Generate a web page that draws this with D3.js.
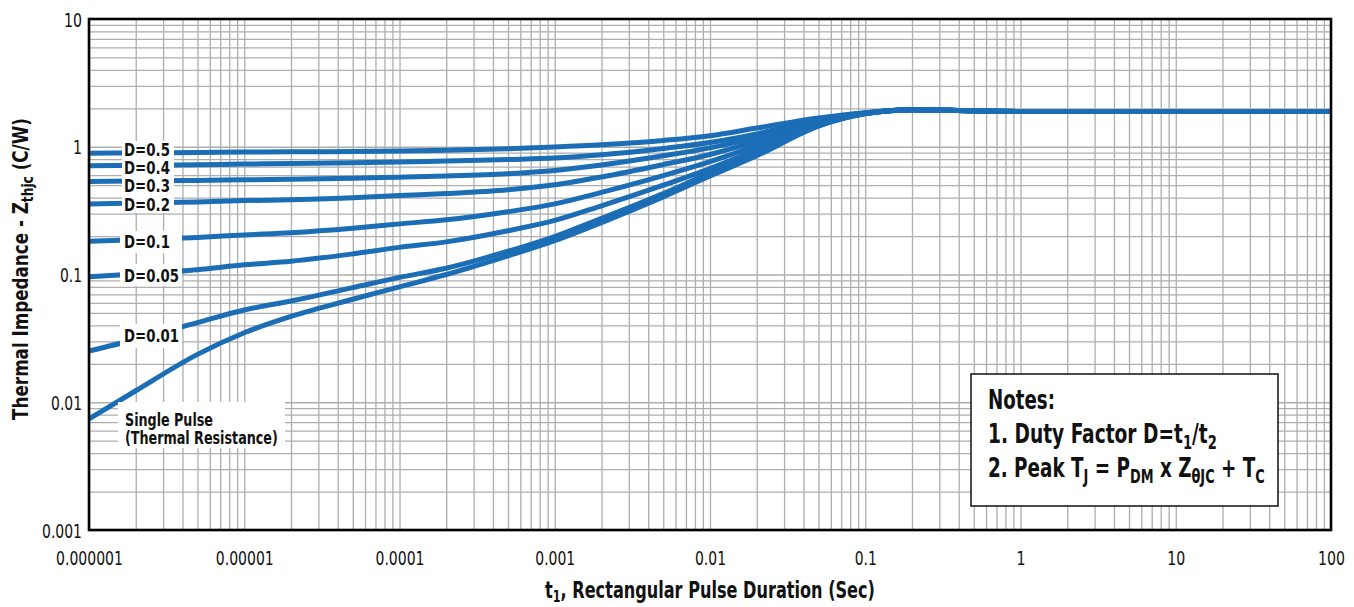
<!DOCTYPE html>
<html>
<head>
<meta charset="utf-8">
<script src="https://cdn.jsdelivr.net/npm/d3@7"></script>
<style>
html,body{margin:0;padding:0;background:#fff;}
svg{display:block;}
text{font-family:"DejaVu Sans",sans-serif;font-stretch:condensed;}
</style>
</head>
<body>
<svg id="chart" width="1354" height="607"></svg>
<script>
// ---- data ----
const times = [1e-6, 2e-6, 5e-6, 1e-5, 2e-5, 5e-5, 1e-4, 2e-4, 5e-4, 1e-3, 2e-3, 5e-3, 1e-2, 2e-2, 5e-2, 0.1, 0.2, 0.5, 1, 10, 100];
const seriesNames = ["D=0.5", "D=0.4", "D=0.3", "D=0.2", "D=0.1", "D=0.05", "D=0.01", "Single Pulse"];
const d050 = [0.89, 0.895, 0.902, 0.909, 0.912, 0.918, 0.925, 0.94, 0.965, 0.995, 1.035, 1.12, 1.22, 1.40, 1.68, 1.85, 1.95, 1.91, 1.89, 1.89, 1.89];
const d040 = [0.71, 0.715, 0.724, 0.732, 0.738, 0.748, 0.759, 0.775, 0.795, 0.815, 0.865, 0.97, 1.08, 1.26, 1.64, 1.84, 1.95, 1.91, 1.89, 1.89, 1.89];
const d030 = [0.535, 0.54, 0.545, 0.551, 0.557, 0.567, 0.578, 0.59, 0.615, 0.652, 0.72, 0.85, 0.98, 1.18, 1.61, 1.84, 1.95, 1.91, 1.89, 1.89, 1.89];
const d020 = [0.356, 0.362, 0.37, 0.379, 0.385, 0.398, 0.415, 0.43, 0.46, 0.504, 0.58, 0.725, 0.87, 1.10, 1.58, 1.83, 1.95, 1.91, 1.89, 1.89, 1.89];
const d010 = [0.182, 0.187, 0.195, 0.204, 0.212, 0.230, 0.249, 0.268, 0.31, 0.357, 0.44, 0.595, 0.765, 1.02, 1.55, 1.83, 1.95, 1.91, 1.89, 1.89, 1.89];
const d005 = [0.096, 0.101, 0.109, 0.119, 0.127, 0.145, 0.163, 0.18, 0.22, 0.265, 0.345, 0.50, 0.675, 0.944, 1.50, 1.82, 1.95, 1.91, 1.89, 1.89, 1.89];
const d001 = [0.0252, 0.031, 0.042, 0.0527, 0.062, 0.079, 0.095, 0.112, 0.152, 0.198, 0.275, 0.43, 0.625, 0.885, 1.47, 1.82, 1.95, 1.91, 1.89, 1.89, 1.89];
const single = [0.0074, 0.0123, 0.0237, 0.035, 0.047, 0.064, 0.080, 0.100, 0.140, 0.184, 0.255, 0.405, 0.59, 0.85, 1.45, 1.81, 1.95, 1.91, 1.89, 1.89, 1.89];
const xTickValues = [1e-6, 1e-5, 1e-4, 1e-3, 1e-2, 1e-1, 1, 10, 100];
const xTickLabels = ["0.000001", "0.00001", "0.0001", "0.001", "0.01", "0.1", "1", "10", "100"];
const yTickValues = [0.001, 0.01, 0.1, 1, 10];
const yTickLabels = ["0.001", "0.01", "0.1", "1", "10"];

// ---- layout ----
const svg = d3.select("#chart");
const L = 89, R = 1331, T = 19, B = 530;
const x = d3.scaleLog().domain([1e-6, 100]).range([L, R]);
const y = d3.scaleLog().domain([0.001, 10]).range([B, T]);

// squeeze a text horizontally to a target width (condensed face look)
function fitW(sel, W, anchor) {
  const node = sel.node();
  const bb = node.getBBox();
  if (!bb.width) return;
  const s = W / bb.width;
  const ax = anchor === "start" ? bb.x : anchor === "end" ? bb.x + bb.width : bb.x + bb.width / 2;
  const prev = sel.attr("transform") || "";
  sel.attr("transform", `${prev} translate(${ax},0) scale(${s},1) translate(${-ax},0)`);
}
const numW = s => s.replace(/\./g, "").length * 9 + (s.match(/\./g) || []).length * 4;

// minor grid values
const xGrid = [], yGrid = [];
for (let e = -6; e < 2; e++) for (let k = 1; k <= 9; k++) xGrid.push(k * Math.pow(10, e));
for (let e = -3; e < 1; e++) for (let k = 1; k <= 9; k++) yGrid.push(k * Math.pow(10, e));

const gx = svg.append("g").attr("transform", `translate(0,${B})`)
  .call(d3.axisBottom(x).tickValues(xGrid).tickSize(-(B - T)).tickFormat(""));
const gy = svg.append("g").attr("transform", `translate(${L},0)`)
  .call(d3.axisLeft(y).tickValues(yGrid).tickSize(-(R - L)).tickFormat(""));
[gx, gy].forEach(g => {
  g.select(".domain").remove();
  g.selectAll("line").attr("stroke", "#aeaeae").attr("stroke-width", 1.3);
});

// curves
const allSeries = [d050, d040, d030, d020, d010, d005, d001, single];
const line = d3.line().x(d => x(d[0])).y(d => y(d[1])).curve(d3.curveMonotoneX);
svg.append("g").selectAll("path").data(allSeries).join("path")
  .attr("d", s => line(times.map((t, i) => [t, s[i]])))
  .attr("fill", "none").attr("stroke", "#1b6db6").attr("stroke-width", 5)
  .attr("stroke-linejoin", "round");

// frame
svg.append("rect").attr("x", L).attr("y", T).attr("width", R - L).attr("height", B - T)
  .attr("fill", "none").attr("stroke", "#000").attr("stroke-width", 2.6);

// tick labels
const xa = svg.append("g").attr("transform", `translate(0,${B})`)
  .call(d3.axisBottom(x).tickValues(xTickValues).tickSize(0).tickPadding(0)
    .tickFormat((d, i) => xTickLabels[i]));
xa.select(".domain").remove();
xa.selectAll("text").attr("y", 35).attr("dy", 0).attr("font-size", 20)
  .attr("fill", "#111").style("font-family", null)
  .each(function(d, i) { fitW(d3.select(this), numW(xTickLabels[i]), "middle"); });
const ya = svg.append("g").attr("transform", `translate(${L},0)`)
  .call(d3.axisLeft(y).tickValues(yTickValues).tickSize(0).tickPadding(0)
    .tickFormat((d, i) => yTickLabels[i]));
ya.select(".domain").remove();
ya.selectAll("text").attr("x", -7).attr("dy", "0.36em").attr("font-size", 20)
  .attr("fill", "#111").style("font-family", null)
  .each(function(d, i) { fitW(d3.select(this), numW(yTickLabels[i]), "end"); });

// curve labels (white boxes)
const labelBoxes = [
  {t: "D=0.5", x: 122, y: 141, w: 52, h: 17, ty: 156, tw: 46},
  {t: "D=0.4", x: 122, y: 158, w: 52, h: 19, ty: 174.5, tw: 46},
  {t: "D=0.3", x: 122, y: 177, w: 52, h: 18, ty: 192.5, tw: 46},
  {t: "D=0.2", x: 122, y: 195, w: 52, h: 18, ty: 211.5, tw: 46},
  {t: "D=0.1", x: 120, y: 231, w: 62, h: 22, ty: 248.5, tw: 46},
  {t: "D=0.05", x: 120, y: 264, w: 62, h: 22, ty: 282.5, tw: 55},
  {t: "D=0.01", x: 120, y: 324, w: 62, h: 24, ty: 342.5, tw: 55}
];
const lg = svg.append("g");
labelBoxes.forEach(b => {
  lg.append("rect").attr("x", b.x).attr("y", b.y).attr("width", b.w).attr("height", b.h).attr("fill", "#fff");
  const t = lg.append("text").attr("x", 124).attr("y", b.ty).attr("font-size", 17)
    .attr("font-weight", "bold").attr("fill", "#111").text(b.t);
  fitW(t, b.tw, "start");
});
lg.append("rect").attr("x", 118).attr("y", 402).attr("width", 167).attr("height", 46).attr("fill", "#fff");
fitW(lg.append("text").attr("x", 125).attr("y", 426).attr("font-size", 17).attr("font-weight", "bold")
  .attr("fill", "#111").text("Single Pulse"), 88, "start");
fitW(lg.append("text").attr("x", 125).attr("y", 444).attr("font-size", 17).attr("font-weight", "bold")
  .attr("fill", "#111").text("(Thermal Resistance)"), 153, "start");

// notes box
const nb = svg.append("g");
nb.append("rect").attr("x", 971).attr("y", 374).attr("width", 307).attr("height", 132)
  .attr("fill", "#fff").attr("stroke", "#111").attr("stroke-width", 1.5);
const n0 = nb.append("text").attr("x", 988).attr("y", 409).attr("font-size", 27).attr("font-weight", "bold")
  .attr("fill", "#111").text("Notes:");
fitW(n0, 67, "start");
const n1 = nb.append("text").attr("x", 988).attr("y", 443).attr("font-size", 27).attr("font-weight", "bold").attr("fill", "#111");
n1.append("tspan").text("1. Duty Factor D=t");
n1.append("tspan").attr("dy", 6).attr("font-size", 19).text("1");
n1.append("tspan").attr("dy", -6).text("/t");
n1.append("tspan").attr("dy", 6).attr("font-size", 19).text("2");
fitW(n1, 229, "start");
const n2 = nb.append("text").attr("x", 988).attr("y", 477).attr("font-size", 27).attr("font-weight", "bold").attr("fill", "#111");
n2.append("tspan").text("2. Peak T");
n2.append("tspan").attr("dy", 6).attr("font-size", 19).text("J");
n2.append("tspan").attr("dy", -6).text(" =  P");
n2.append("tspan").attr("dy", 6).attr("font-size", 19).text("DM");
n2.append("tspan").attr("dy", -6).text(" x Z");
n2.append("tspan").attr("dy", 6).attr("font-size", 19).text("θJC");
n2.append("tspan").attr("dy", -6).text(" + T");
n2.append("tspan").attr("dy", 6).attr("font-size", 19).text("C");
fitW(n2, 277, "start");

// axis titles
const xt = svg.append("text").attr("x", 710).attr("y", 598).attr("text-anchor", "middle")
  .attr("font-size", 23).attr("font-weight", "bold").attr("fill", "#111");
xt.append("tspan").text("t");
xt.append("tspan").attr("dy", 4).attr("font-size", 16).text("1");
xt.append("tspan").attr("dy", -4).text(", Rectangular Pulse Duration (Sec)");
fitW(xt, 330, "middle");

const ytg = svg.append("g").attr("transform", "translate(28,269) rotate(-90)");
const yt = ytg.append("text").attr("x", 0).attr("y", 0).attr("text-anchor", "middle")
  .attr("font-size", 22).attr("font-weight", "bold").attr("fill", "#111");
yt.append("tspan").text("Thermal Impedance - Z");
yt.append("tspan").attr("dy", 5).attr("font-size", 16).text("thjc");
yt.append("tspan").attr("dy", -5).text(" (C/W)");
fitW(yt, 302, "middle");
</script>
</body>
</html>
